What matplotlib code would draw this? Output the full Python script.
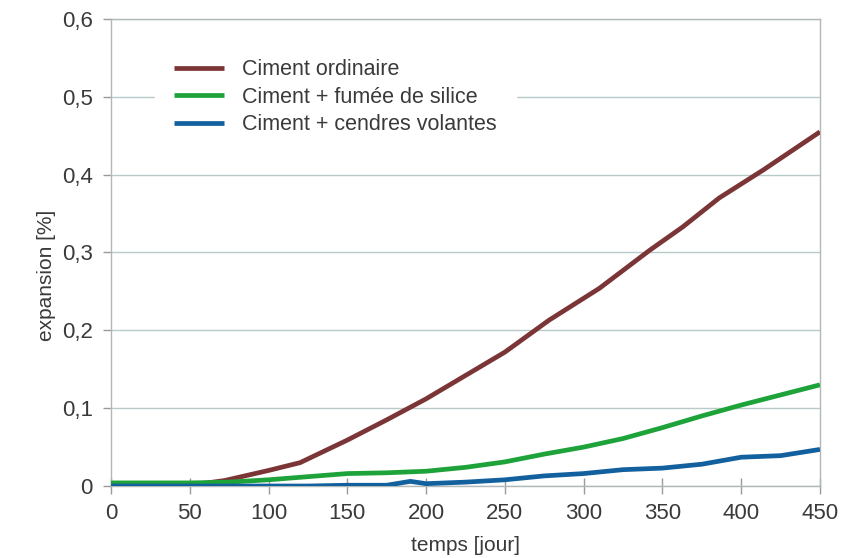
import matplotlib.pyplot as plt
from matplotlib.ticker import FuncFormatter, MultipleLocator

# Expansion measurements (%) vs time (days) for three binder types
jours_ordinaire = [0, 25, 50, 72, 100, 120, 150, 175, 200, 225, 250, 278, 310, 342, 363, 386, 414, 450]
exp_ordinaire = [0.0, 0.0, 0.001, 0.007, 0.02, 0.03, 0.059, 0.085, 0.112, 0.142, 0.172, 0.213, 0.254, 0.303, 0.333, 0.37, 0.406, 0.455]

jours_silice = [0, 25, 50, 75, 100, 125, 150, 175, 200, 225, 250, 275, 300, 325, 350, 375, 400, 425, 450]
exp_silice = [0.004, 0.004, 0.004, 0.005, 0.008, 0.012, 0.016, 0.017, 0.019, 0.024, 0.031, 0.041, 0.05, 0.061, 0.075, 0.09, 0.104, 0.117, 0.13]

jours_cendres = [0, 25, 50, 75, 100, 125, 150, 175, 190, 200, 225, 250, 275, 300, 325, 350, 375, 400, 425, 450]
exp_cendres = [0.0, 0.0, 0.0, 0.0, 0.0, 0.0, 0.001, 0.001, 0.006, 0.003, 0.005, 0.008, 0.013, 0.016, 0.021, 0.023, 0.028, 0.037, 0.039, 0.047]

labels = ["Ciment ordinaire", "Ciment + fumée de silice", "Ciment + cendres volantes"]
colors = ["#7b3536", "#1ea33a", "#13609f"]

plt.rcParams['font.family'] = ['Liberation Sans', 'DejaVu Sans']
text_color = "#3a3a3a"
grid_color = "#b9cbc9"

fig = plt.figure(figsize=(8.41, 5.58), dpi=100)
ax = fig.add_axes([0.132, 0.129, 0.843, 0.837])

for x, y, lab, c in zip([jours_ordinaire, jours_silice, jours_cendres],
                        [exp_ordinaire, exp_silice, exp_cendres], labels, colors):
    ax.plot(x, y, color=c, lw=3.4, label=lab, solid_capstyle='butt', zorder=3)

ax.set_xlim(0, 450)
ax.set_ylim(0, 0.6)
ax.xaxis.set_major_locator(MultipleLocator(50))
ax.yaxis.set_major_locator(MultipleLocator(0.1))


def comma(v, pos):
    if abs(v) < 1e-9:
        return "0"
    return f"{v:.1f}".replace(".", ",")


ax.yaxis.set_major_formatter(FuncFormatter(comma))
ax.grid(axis='y', color=grid_color, lw=1.0, zorder=0)

for side in ['left', 'right', 'bottom', 'top']:
    ax.spines[side].set_color("#b0b8b8")
    ax.spines[side].set_linewidth(1.0)

ax.tick_params(axis='x', direction='inout', length=12, width=1, color="#9a9a9a",
               labelsize=16, labelcolor=text_color, pad=6)
ax.tick_params(axis='y', direction='out', length=6, width=1, color="#9a9a9a",
               labelsize=16, labelcolor=text_color, pad=7)

ax.set_xlabel("temps [jour]", fontsize=15, color=text_color, labelpad=9)
ax.set_ylabel("expansion [%]", fontsize=15, color=text_color)
ax.yaxis.set_label_coords(-0.077, 0.452)

leg = ax.legend(loc='upper left', bbox_to_anchor=(0.047, 0.978), frameon=True,
                fontsize=15.5, handlelength=2.3, handletextpad=0.85,
                labelspacing=0.3, borderpad=0.9)
leg.get_frame().set_edgecolor('white')
leg.get_frame().set_facecolor('white')
leg.get_frame().set_alpha(1.0)
leg.get_frame().set_boxstyle('square', pad=0)
for t in leg.get_texts():
    t.set_color(text_color)

fig.savefig("out.png", dpi=100)
